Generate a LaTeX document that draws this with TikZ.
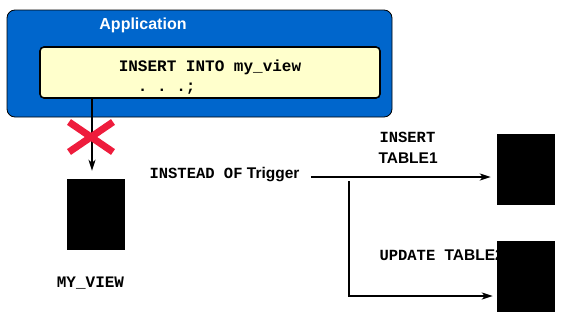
\documentclass[tikz,border=0pt]{standalone}
\usepackage{fontspec}
\setmainfont{Liberation Sans}
\setmonofont{Liberation Mono}
\usetikzlibrary{arrows.meta,positioning}
\definecolor{appblue}{HTML}{0066CC}
\definecolor{codebg}{HTML}{FFFFCC}
\definecolor{xred}{HTML}{EE1C3C}

\begin{document}
\begin{tikzpicture}[
  x=1pt,y=-1pt,
  app/.style={draw,rounded corners=8pt,fill=appblue,minimum width=385pt,minimum height=107pt,line width=0.8pt},
  code/.style={draw,rounded corners=4pt,fill=codebg,minimum width=340pt,minimum height=51pt,line width=1.6pt},
  codetxt/.style={align=left,font=\ttfamily\bfseries\fontsize{16}{20}\selectfont},
  tbl/.style={fill=black,minimum width=58pt,minimum height=71pt,inner sep=0pt},
  lbl/.style={font=\bfseries\fontsize{15.5}{19}\selectfont},
  kw/.style={font=\ttfamily\bfseries\fontsize{15.5}{19}\selectfont},
  arr/.style={-{Stealth[length=11pt,width=7pt,inset=3pt]},line width=1.8pt}
]
  \useasboundingbox (0,0) rectangle (581,324);

  \node[app] (app) at (199.5,63.5) {};
  \node[lbl,text=white,font=\bfseries\fontsize{16}{19}\selectfont] (applbl) at (143,25) {Application};
  \node[code] (sql) at (210,72.5) {};
  \node[codetxt] (sqltxt) at (210,77) {INSERT INTO my\_view\\\hphantom{IN}. . .;};

  \node[tbl] (view) at (96,214.5) {};
  \node[kw,font=\ttfamily\bfseries\fontsize{16}{19}\selectfont] (viewlbl) at (90.5,283) {MY\_VIEW};

  \node[lbl] (trig) at (224.5,175) {{\ttfamily INSTEAD OF} Trigger};

  \node[kw,anchor=west] (inslbl) at (376,137) {INSERT};
  \node[lbl,anchor=west] (t1lbl) at (375,158) {TABLE1};
  \node[kw,anchor=west] (updlbl) at (376,255) {UPDATE \normalfont\bfseries TABLE2};

  \node[tbl] (t1) at (526,169.5) {};
  \node[tbl] (t2) at (526,276.5) {};

  % view path blocked
  \draw[arr,line width=1.5pt,shorten >=8pt] ([xshift=-4pt]view.north |- sql.south) -- ([xshift=-4pt]view.north);
  \coordinate (stop) at (91,137);
  \draw[xred,line width=7pt] ([shift={(-22,-15)}]stop) -- ([shift={(22,15)}]stop)
    ([shift={(-22,15)}]stop) -- ([shift={(22,-15)}]stop);

  % trigger fans out to the tables
  \coordinate (fork) at (349,181);
  \coordinate (low) at (349,296);
  \draw[arr] ([xshift=8pt,yshift=-2pt]trig.east) -- ([xshift=-6pt,yshift=-7.5pt]t1.west);
  \draw[arr] (fork) -- (low) -- ([xshift=-4pt]t2.west |- low);
\end{tikzpicture}
\end{document}
